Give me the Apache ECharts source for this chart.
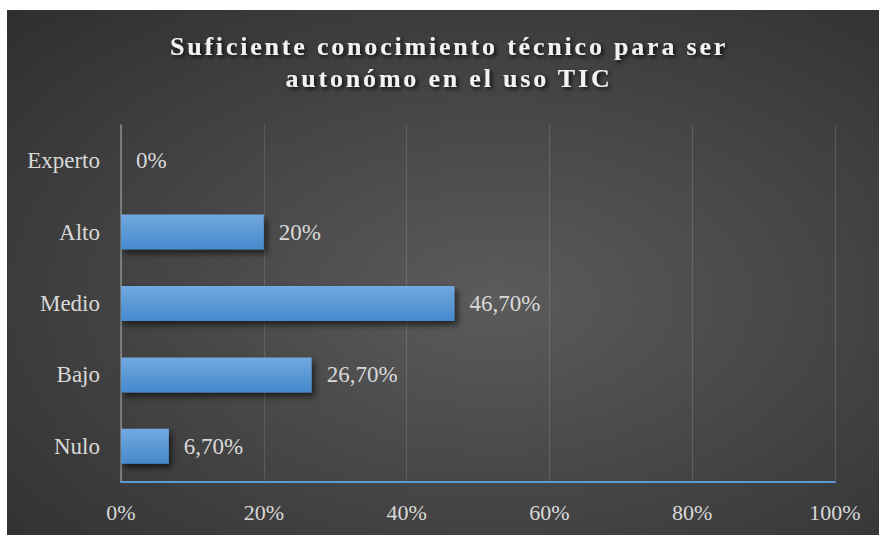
<!DOCTYPE html>
<html>
<head>
<meta charset="utf-8">
<script src="https://cdn.jsdelivr.net/npm/echarts@6/dist/echarts.min.js"></script>
<style>
html,body{margin:0;padding:0;background:#ffffff;}
#chart{width:880px;height:535px;}
</style>
</head>
<body>
<div id="chart"></div>
<script>
var titleLines = ['Suficiente conocimiento técnico para ser', 'autonómo en el uso TIC'];
var categories = ['Nulo', 'Bajo', 'Medio', 'Alto', 'Experto'];
var values = [6.7, 26.7, 46.7, 20, 0];
var valueLabels = ['6,70%', '26,70%', '46,70%', '20%', '0%'];
var axisMin = 0, axisMax = 100, axisStep = 20;

var chart = echarts.init(document.getElementById('chart'), null, {renderer: 'svg'});
var serif = '"Liberation Serif", "Times New Roman", serif';

chart.setOption({
  animation: false,
  backgroundColor: '#ffffff',
  graphic: [{
    type: 'rect',
    z: -100,
    silent: true,
    shape: {x: 7, y: 10, width: 872, height: 525},
    style: {
      fill: {
        type: 'radial', x: 0.56, y: 0.55, r: 0.95,
        colorStops: [
          {offset: 0, color: '#5b5b5b'},
          {offset: 1, color: '#252525'}
        ]
      }
    }
  }],
  title: {
    text: titleLines.join('\n'),
    left: 444,
    textAlign: 'center',
    top: 25,
    textStyle: {
      fontFamily: serif,
      fontWeight: 'bold',
      fontSize: 26,
      lineHeight: 32,
      color: '#f2f2f2',
      textShadowColor: 'rgba(0,0,0,0.85)',
      textShadowBlur: 4,
      textShadowOffsetX: 2,
      textShadowOffsetY: 2
    }
  },
  grid: {left: 121, right: 45, top: 125, bottom: 53, containLabel: false},
  xAxis: {
    type: 'value',
    min: axisMin, max: axisMax, interval: axisStep,
    axisLine: {show: true, lineStyle: {color: '#5b9bd5', width: 2}},
    axisTick: {show: false},
    axisLabel: {
      formatter: '{value}%',
      color: '#d9d9d9',
      fontFamily: serif,
      fontSize: 22,
      margin: 19
    },
    splitLine: {show: true, lineStyle: {color: 'rgba(255,255,255,0.13)', width: 1.2}}
  },
  yAxis: {
    type: 'category',
    data: categories,
    axisLine: {show: true, lineStyle: {color: '#8c8c8c', width: 1.5}},
    axisTick: {show: false},
    axisLabel: {
      color: '#d9d9d9',
      fontFamily: serif,
      fontSize: 23,
      margin: 21
    },
    splitLine: {show: false}
  },
  series: [{
    type: 'bar',
    data: values,
    barWidth: 35,
    itemStyle: {
      color: {
        type: 'linear', x: 0, y: 0, x2: 0, y2: 1,
        colorStops: [
          {offset: 0, color: '#72a9e0'},
          {offset: 1, color: '#4689cc'}
        ]
      },
      shadowColor: 'rgba(0,0,0,0.6)',
      shadowBlur: 6,
      shadowOffsetX: 3,
      shadowOffsetY: 4
    },
    label: {
      show: true,
      position: 'right',
      distance: 15,
      color: '#d9d9d9',
      fontFamily: serif,
      fontSize: 23,
      formatter: function (p) { return valueLabels[p.dataIndex]; }
    }
  }]
});

function spaceTitle() {
  var texts = document.querySelectorAll('#chart svg text');
  texts.forEach(function (t) {
    var c = t.textContent;
    if (titleLines.indexOf(c) >= 0) {
      t.style.letterSpacing = '2.8px';
    }
  });
}
spaceTitle();
setTimeout(spaceTitle, 50);
</script>
</body>
</html>
